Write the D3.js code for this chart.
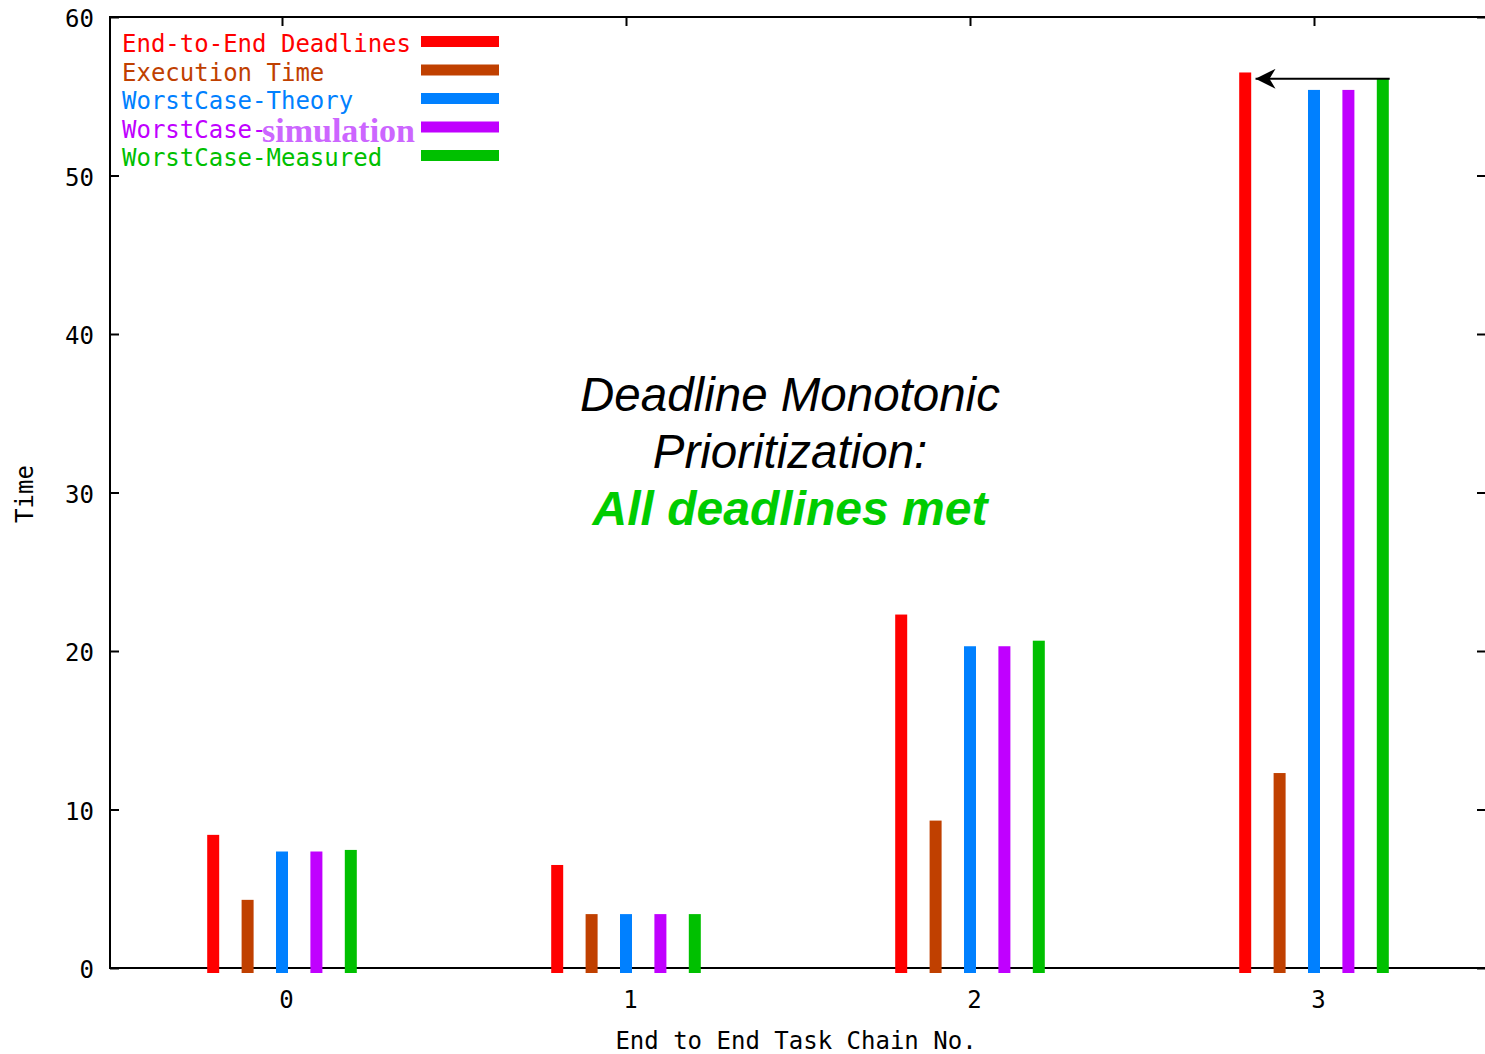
<!DOCTYPE html>
<html>
<head>
<meta charset="utf-8">
<script src="https://cdn.jsdelivr.net/npm/d3@7"></script>
<style>
  body { margin: 0; background: #fff; }
  svg { display: block; }
  .mono { font-family: "DejaVu Sans Mono", monospace; font-size: 24px; }
</style>
</head>
<body>
<script>
const chains = [0, 1, 2, 3]
const seriesNames = ['End-to-End Deadlines', 'Execution Time', 'WorstCase-Theory', 'WorstCase-simulation', 'WorstCase-Measured']
const seriesColors = ['#ff0000', '#c04000', '#0080ff', '#c000ff', '#00c000']
const deadlines = [8.4, 6.5, 22.3, 56.5]
const execTime = [4.3, 3.4, 9.3, 12.3]
const theory = [7.35, 3.4, 20.3, 55.4]
const simulation = [7.35, 3.4, 20.3, 55.4]
const measured = [7.45, 3.4, 20.65, 56.1]
const yTicks = [0, 10, 20, 30, 40, 50, 60]
const arrowFrom = [3.22, 56.1]
const arrowTo = [2.83, 56.1]
const noteLines = ['Deadline Monotonic', 'Prioritization:', 'All deadlines met']

document.addEventListener('DOMContentLoaded', function() {
    const width = 1485, height = 1054
    const series = [deadlines, execTime, theory, simulation, measured]

    const svg = d3.select('body').append('svg')
        .attr('width', width)
        .attr('height', height)

    const x = d3.scaleLinear().domain([-0.5, 3.5]).range([110, 1486])
    const y = d3.scaleLinear().domain([0, 60]).range([968, 17])
    const barOffset = 0.1
    const barWidth = 12

    // frame ticks (gnuplot style, pointing inward)
    svg.append('g')
        .attr('class', 'yaxis')
        .attr('transform', `translate(${x(-0.5)},0)`)
        .call(d3.axisLeft(y).tickValues(yTicks).tickSize(-9).tickSizeOuter(0).tickPadding(16))
    svg.append('g')
        .attr('transform', `translate(${x(3.5)},0)`)
        .call(d3.axisRight(y).tickValues(yTicks).tickSize(-9).tickSizeOuter(0).tickFormat(''))
    svg.append('g')
        .attr('class', 'xaxis')
        .attr('transform', `translate(0,${y(0)})`)
        .call(d3.axisBottom(x).tickValues(chains).tickFormat(d3.format('d')).tickSize(-9).tickSizeOuter(0).tickPadding(23))
    svg.append('g')
        .attr('transform', `translate(0,${y(60)})`)
        .call(d3.axisTop(x).tickValues(chains).tickSize(-9).tickSizeOuter(0).tickFormat(''))

    svg.selectAll('.domain').remove()
    svg.selectAll('.tick line').attr('stroke', '#000').attr('stroke-width', 2)
    svg.selectAll('.tick text')
        .attr('class', 'mono')
        .attr('font-family', null)
        .attr('font-size', null)
        .attr('fill', '#000')
    svg.selectAll('.xaxis .tick text').attr('dx', 4)
    svg.selectAll('.yaxis .tick text').attr('dy', '0.4em')

    // frame
    svg.append('path')
        .attr('d', `M${x(3.5)},${y(60)} H${x(-0.5)} V${y(0)} H${x(3.5)}`)
        .attr('fill', 'none')
        .attr('stroke', '#000')
        .attr('stroke-width', 2)

    // bars
    series.forEach((vals, s) => {
        svg.selectAll('.bar' + s)
            .data(vals)
            .join('rect')
            .attr('class', 'bar' + s)
            .attr('x', (d, i) => x(chains[i] + (s - 2) * barOffset) - barWidth / 2)
            .attr('y', d => y(d))
            .attr('width', barWidth)
            .attr('height', d => y(0) - y(d) + 5)
            .attr('fill', seriesColors[s])
    })

    // legend
    const legend = svg.append('g')
    seriesNames.forEach((name, i) => {
        const base = 52 + i * 28.5
        const t = legend.append('text')
            .attr('class', 'mono')
            .attr('x', 122)
            .attr('y', base)
            .attr('fill', seriesColors[i])
        if (name === 'WorstCase-simulation') {
            t.text('WorstCase-')
            legend.append('text')
                .attr('x', 262)
                .attr('y', base + 4)
                .attr('font-family', '"Liberation Serif", serif')
                .attr('font-weight', 'bold')
                .attr('font-size', 34)
                .attr('fill', '#cc66ff')
                .text('simulation')
        } else {
            t.text(name)
        }
        legend.append('rect')
            .attr('x', 421)
            .attr('y', base - 16)
            .attr('width', 78)
            .attr('height', 11)
            .attr('fill', seriesColors[i])
    })

    // arrow
    const defs = svg.append('defs')
    defs.append('marker')
        .attr('id', 'head')
        .attr('viewBox', '0 0 20 20')
        .attr('refX', 20)
        .attr('refY', 10)
        .attr('markerWidth', 20)
        .attr('markerHeight', 20)
        .attr('markerUnits', 'userSpaceOnUse')
        .attr('orient', 'auto')
        .append('path')
        .attr('d', 'M20,10 L0,0 L6,10 L0,20 Z')
        .attr('fill', '#000')
    svg.append('line')
        .attr('x1', x(arrowFrom[0]))
        .attr('y1', y(arrowFrom[1]))
        .attr('x2', x(arrowTo[0]))
        .attr('y2', y(arrowTo[1]))
        .attr('stroke', '#000')
        .attr('stroke-width', 2)
        .attr('marker-end', 'url(#head)')

    // annotation
    const noteX = 790
    noteLines.forEach((line, i) => {
        svg.append('text')
            .attr('x', noteX)
            .attr('y', 411 + i * 57)
            .attr('text-anchor', 'middle')
            .attr('font-family', '"Liberation Sans", Arial, sans-serif')
            .attr('font-style', 'italic')
            .attr('font-weight', i === 2 ? 'bold' : 'normal')
            .attr('font-size', i === 2 ? 48 : 47.5)
            .attr('fill', i === 2 ? '#00cc00' : '#000')
            .text(line)
    })

    // axis titles
    svg.append('text')
        .attr('class', 'mono')
        .attr('x', 796)
        .attr('y', 1049)
        .attr('text-anchor', 'middle')
        .text('End to End Task Chain No.')
    svg.append('text')
        .attr('class', 'mono')
        .attr('transform', 'translate(33,494) rotate(-90)')
        .attr('text-anchor', 'middle')
        .text('Time')
})
</script>
</body>
</html>
